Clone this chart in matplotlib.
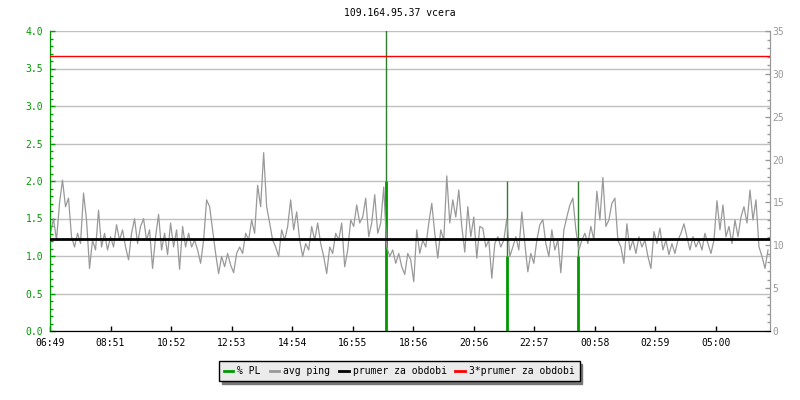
import numpy as np
import matplotlib.pyplot as plt
from matplotlib.ticker import MultipleLocator
from matplotlib.lines import Line2D

# avg ping [ms], one reading every 6 minutes starting 06:50
ping = [
    11.4, 13.1, 10.6, 14.9, 17.6, 14.5, 15.5, 11.0, 9.8, 11.4, 10.2, 16.1,
    12.95, 7.3, 10.6, 9.45, 14.1, 9.8, 11.4, 9.45, 11.0, 9.8, 12.4, 10.6,
    11.8, 9.8, 8.3, 11.4, 13.1, 10.2, 12.2, 13.1, 10.6, 11.8, 7.3, 11.0,
    13.6, 9.45, 11.4, 8.9, 12.6, 9.8, 11.8, 7.2, 12.2, 9.8, 11.4, 9.8,
    10.6, 9.45, 7.9, 10.6, 15.3, 14.5, 11.8, 9.05, 6.7, 8.7, 7.5, 9.05,
    7.7, 6.8, 9.05, 9.8, 9.05, 11.4, 10.6, 12.95, 11.4, 17.0, 14.5, 20.8,
    14.5, 12.6, 10.6, 9.8, 8.7, 11.8, 10.6, 12.2, 15.3, 11.8, 13.9, 10.6,
    8.7, 10.2, 9.45, 12.2, 10.6, 12.6, 10.2, 8.7, 6.7, 9.8, 9.05, 11.4,
    10.6, 12.6, 7.5, 9.45, 12.95, 12.2, 14.7, 12.6, 13.3, 15.5, 11.0, 12.6,
    15.9, 11.4, 12.6, 16.8, 9.8, 8.7, 9.45, 7.9, 9.05, 7.5, 6.6, 9.05,
    8.3, 5.75, 11.8, 9.05, 10.6, 9.8, 12.6, 14.9, 11.4, 8.5, 11.8, 10.6,
    18.1, 12.6, 15.3, 13.3, 16.45, 12.2, 9.2, 14.5, 11.0, 13.3, 8.5, 12.2,
    12.0, 9.8, 10.6, 6.15, 10.2, 11.0, 9.8, 10.6, 13.1, 8.7, 9.8, 11.0,
    9.45, 13.9, 10.2, 6.9, 9.05, 7.9, 10.6, 12.4, 13.0, 10.2, 8.7, 11.8,
    9.45, 10.6, 6.8, 11.8, 13.3, 14.7, 15.5, 11.8, 9.45, 10.6, 11.4, 10.2,
    12.2, 10.6, 16.3, 12.95, 17.9, 12.2, 12.95, 14.9, 15.5, 10.6, 9.8, 7.9,
    12.5, 9.45, 10.6, 9.05, 11.0, 9.8, 10.6, 8.7, 7.3, 11.6, 10.2, 12.0,
    9.45, 10.6, 8.9, 10.2, 9.05, 10.6, 11.4, 12.5, 11.0, 9.45, 11.0, 9.8,
    10.6, 9.45, 11.4, 10.2, 9.05, 10.6, 15.2, 11.8, 14.7, 11.0, 12.2, 10.2,
    12.95, 11.0, 13.3, 14.5, 12.6, 16.45, 12.95, 15.3, 9.8, 8.7, 7.3, 9.45,
]
ping_minutes = np.arange(len(ping)) * 6 + 1

# packet loss spikes [%]
pl_minutes = [671, 913, 1055]
pl_low = [2.0, 1.0, 1.0]
pl_high = [4.2, 2.0, 2.0]

mean_ping = 10.7
tick_labels = ['06:49', '08:51', '10:52', '12:53', '14:54', '16:55',
               '18:56', '20:56', '22:57', '00:58', '02:59', '05:00']

green = '#009900'
gray = '#999999'
plt.rcParams['font.family'] = 'DejaVu Sans Mono'
plt.rcParams['font.size'] = 7

fig = plt.figure(figsize=(8, 4), dpi=100)
ax = fig.add_axes([50 / 800, 69 / 400, 720 / 800, 300 / 400])
ax2 = ax.twinx()

# packet loss on the left axis
ax.vlines(pl_minutes, 0, pl_low, colors=green, linewidth=2, zorder=2)
ax.vlines(pl_minutes, pl_low, pl_high, colors='#2e7d2e', linewidth=1, zorder=2)

# ping on the right axis
ax2.plot(ping_minutes, ping, color=gray, linewidth=0.9, zorder=2)
ax2.axhline(mean_ping, color='black', linewidth=2, zorder=3)
ax2.axhline(3 * mean_ping, color='red', linewidth=1, zorder=3)

ax.set_xlim(0, 1439)
ax.set_ylim(0, 4)
ax2.set_ylim(0, 35)

ax.set_xticks(np.arange(len(tick_labels)) * 121)
ax.set_xticklabels(tick_labels)
ax.yaxis.set_major_locator(MultipleLocator(0.5))
ax.yaxis.set_minor_locator(MultipleLocator(0.1))
ax.yaxis.set_major_formatter(lambda v, p: f'{v:.1f}')
ax2.yaxis.set_major_locator(MultipleLocator(5))
ax2.yaxis.set_minor_locator(MultipleLocator(1))

ax.grid(axis='y', color='#c0c0c0', linewidth=1)
ax.set_axisbelow(True)

ax.tick_params(axis='x', direction='in', length=3.6, width=1, pad=5, colors='black')
ax.tick_params(axis='y', which='major', direction='in', length=3.6, width=1, pad=5, colors=green)
ax.tick_params(axis='y', which='minor', direction='in', length=2.2, width=1, colors=green)
ax2.tick_params(axis='y', which='major', direction='in', length=3.6, width=1, pad=2, colors=gray)
ax2.tick_params(axis='y', which='minor', direction='in', length=2.2, width=1, colors=gray)

for a in (ax, ax2):
    a.spines['top'].set_visible(False)
    a.spines['left'].set_color(green)
    a.spines['right'].set_color(gray)
    a.spines['bottom'].set_color('black')

fig.text(0.5, 1 - 13 / 400, '109.164.95.37 vcera', ha='center', va='center', fontsize=7)

handles = [Line2D([], [], color=green, linewidth=2),
           Line2D([], [], color=gray, linewidth=2),
           Line2D([], [], color='black', linewidth=2),
           Line2D([], [], color='red', linewidth=2)]
labels = ['% PL', 'avg ping', 'prumer za obdobi', '3*prumer za obdobi']
leg = fig.legend(handles, labels, loc='center', bbox_to_anchor=(0.499, 1 - 371 / 400),
                 ncol=4, frameon=True, fancybox=False, edgecolor='black',
                 facecolor='#ebebeb', framealpha=1, handlelength=1.0,
                 handletextpad=0.4, columnspacing=0.9, borderpad=0.5,
                 shadow={'color': '#777777', 'alpha': 1})
leg.get_frame().set_linewidth(1)

fig.savefig('out.png', dpi=100)
